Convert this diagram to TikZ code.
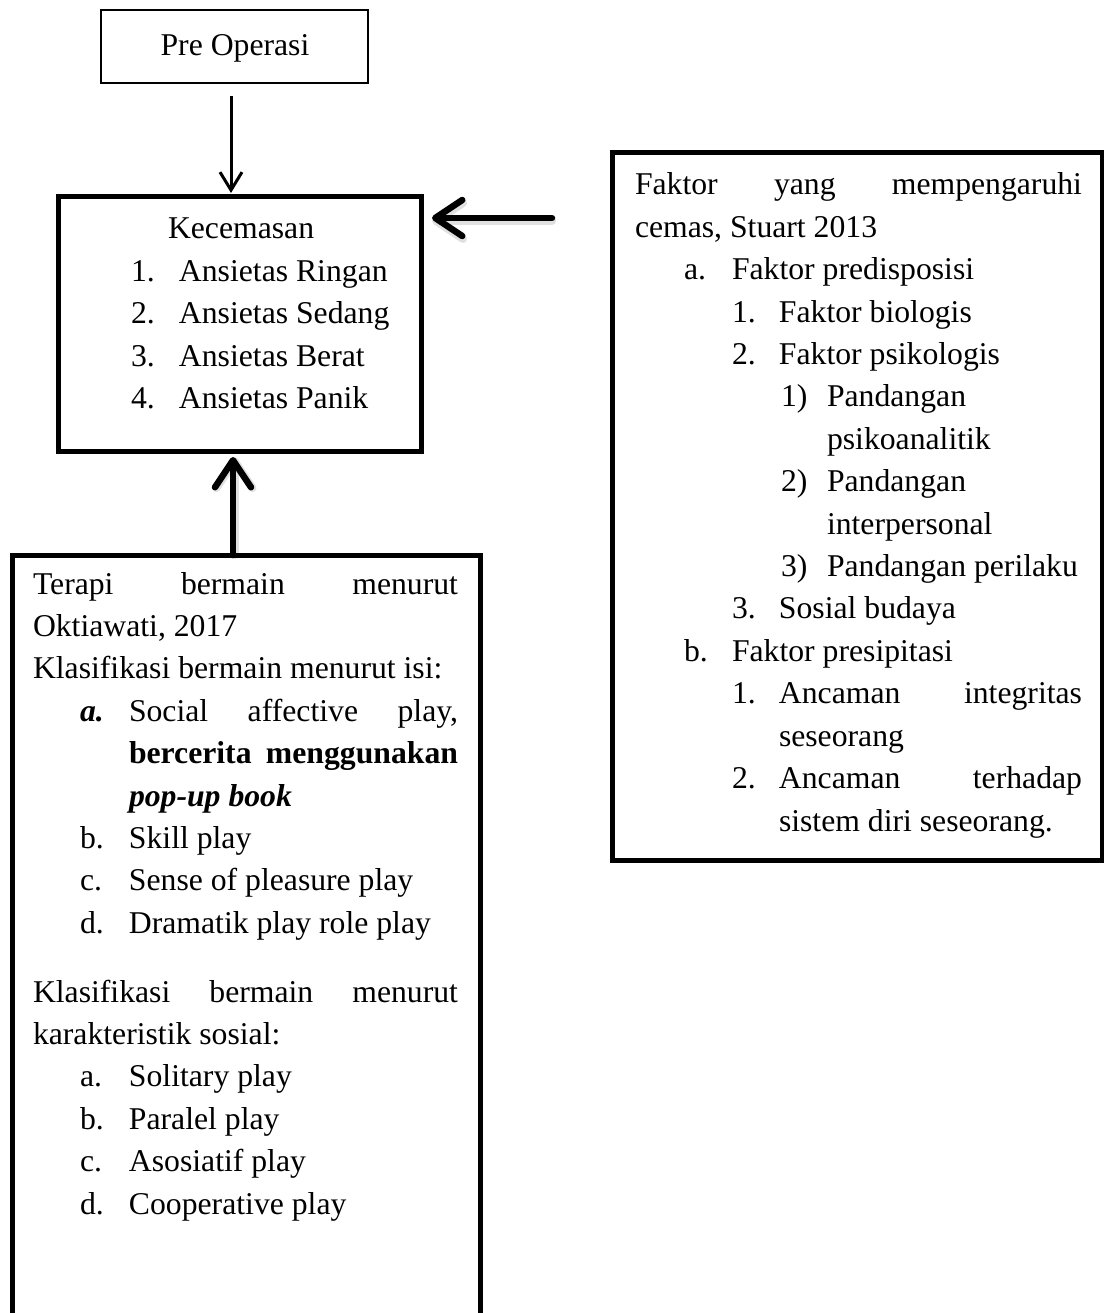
\documentclass[tikz,border=0pt]{standalone}
\usepackage{fontspec}
\setmainfont{Liberation Serif}
\usetikzlibrary{arrows.meta}
\begin{document}
\begin{tikzpicture}[x=1pt,y=-1pt,
  txt/.style={font=\fontsize{31.7}{42.4}\selectfont, inner sep=0pt, outer sep=0pt, anchor=base west, align=left},
  thinbox/.style={draw, line width=2.5pt, inner sep=0pt, outer sep=0pt},
  thickbox/.style={draw, line width=5pt, inner sep=0pt, outer sep=0pt},
  thinarrow/.style={line width=3pt, -{Straight Barb[length=18pt,width=22pt]}},
  bigarrow/.style={line width=6.5pt, line cap=round, -{Straight Barb[length=27pt,width=36pt,line cap=round,line join=round]}},
  shadowarrow/.style={bigarrow, draw=black, opacity=0.12, line width=8pt}]
\useasboundingbox (0,0) rectangle (1103,1313);
\fill[white] (0,0) rectangle (1103,1313);

% boxes
\node[thinbox, minimum width=267pt, minimum height=73pt] (pre) at (234.5,46.5) {};
\node[thickbox, minimum width=363pt, minimum height=254pt] (kec) at (239.5,324) {};
\node[thickbox, minimum width=490pt, minimum height=707pt] (rbox) at (857,506.5) {};
\node[thickbox, minimum width=468pt, minimum height=800pt] (bot) at (246,955) {};

% texts
\node[txt, anchor=base] (pretxt) at (235,56) {Pre Operasi};

\node[txt] (kectxt) at (131,239) {\parbox[t]{280pt}{%
\hspace*{37pt}Kecemasan\par
\makebox[48pt][l]{1.}Ansietas Ringan\par
\makebox[48pt][l]{2.}Ansietas Sedang\par
\makebox[48pt][l]{3.}Ansietas Berat\par
\makebox[48pt][l]{4.}Ansietas Panik}};

\node[txt] (rtxt) at (635,195) {\parbox[t]{447pt}{%
\makebox[447pt][s]{Faktor yang mempengaruhi}\par
cemas, Stuart 2013\par
\hspace*{49pt}\makebox[48pt][l]{a.}Faktor predisposisi\par
\hspace*{97pt}\makebox[47pt][l]{1.}Faktor biologis\par
\hspace*{97pt}\makebox[47pt][l]{2.}Faktor psikologis\par
\hspace*{146pt}\makebox[46pt][l]{1)}Pandangan\par
\hspace*{192pt}psikoanalitik\par
\hspace*{146pt}\makebox[46pt][l]{2)}Pandangan\par
\hspace*{192pt}interpersonal\par
\hspace*{146pt}\makebox[46pt][l]{3)}Pandangan perilaku\par
\hspace*{97pt}\makebox[47pt][l]{3.}Sosial budaya\par
\hspace*{49pt}\makebox[48pt][l]{b.}Faktor presipitasi\par
\hspace*{97pt}\makebox[47pt][l]{1.}\makebox[303pt][s]{Ancaman integritas}\par
\hspace*{144pt}seseorang\par
\hspace*{97pt}\makebox[47pt][l]{2.}\makebox[303pt][s]{Ancaman terhadap}\par
\hspace*{144pt}sistem diri seseorang.}};

\node[txt] (btxt) at (33,594) {\parbox[t]{425pt}{%
\makebox[425pt][s]{Terapi bermain menurut}\par
Oktiawati, 2017\par
Klasifikasi bermain menurut isi:\par
\hspace*{47pt}\makebox[49pt][l]{\textbf{\textit{a.}}}\makebox[329pt][s]{Social affective play,}\par
\hspace*{96pt}\makebox[329pt][s]{\textbf{bercerita menggunakan}}\par
\hspace*{96pt}\textbf{\textit{pop-up book}}\par
\hspace*{47pt}\makebox[49pt][l]{b.}Skill play\par
\hspace*{47pt}\makebox[49pt][l]{c.}Sense of pleasure play\par
\hspace*{47pt}\makebox[49pt][l]{d.}Dramatik play role play\par
\vspace{26.5pt}
\makebox[425pt][s]{Klasifikasi bermain menurut}\par
karakteristik sosial:\par
\hspace*{47pt}\makebox[49pt][l]{a.}Solitary play\par
\hspace*{47pt}\makebox[49pt][l]{b.}Paralel play\par
\hspace*{47pt}\makebox[49pt][l]{c.}Asosiatif play\par
\hspace*{47pt}\makebox[49pt][l]{d.}Cooperative play}};

% connectors
\draw[thinarrow, shorten <=13pt, shorten >=4pt] (pre.south -| 231,0) -- (kec.north -| 231,0);
\begin{scope}[shift={(1.5,3)}]
\draw[shadowarrow, shorten <=60pt, shorten >=11pt] (rbox.west |- 0,218) -- (kec.east |- 0,218);
\draw[shadowarrow, shorten >=6pt] (bot.north -| 233,0) -- (kec.south -| 233,0);
\end{scope}
\draw[bigarrow, shorten <=60pt, shorten >=11pt] (rbox.west |- 0,218) -- (kec.east |- 0,218);
\draw[bigarrow, shorten >=6pt] (bot.north -| 233,0) -- (kec.south -| 233,0);
\end{tikzpicture}
\end{document}
